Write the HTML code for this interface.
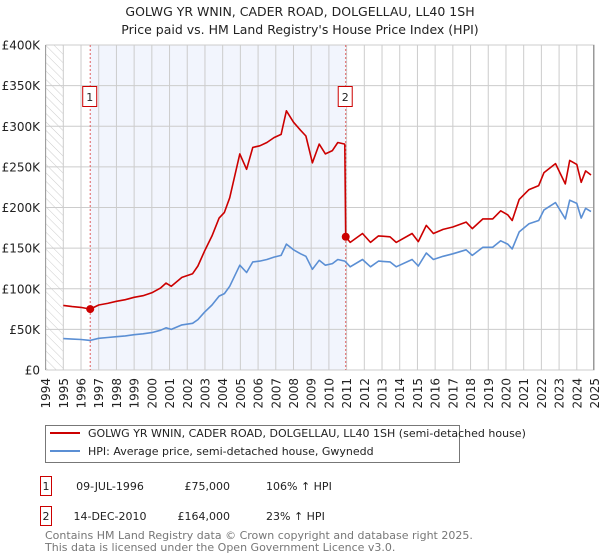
<!DOCTYPE html>
<html><head><meta charset="utf-8"><style>
body{margin:0;background:#fff;font-family:"Liberation Sans","DejaVu Sans",sans-serif;}
svg{display:block}
</style></head><body>
<svg id="chart" width="600" height="560" viewBox="0 0 600 560" xmlns="http://www.w3.org/2000/svg" font-family="DejaVu Sans, Liberation Sans, sans-serif">
<defs>
<pattern id="hatch" patternUnits="userSpaceOnUse" width="6" height="6" patternTransform="rotate(-45)">
<line x1="0" y1="0" x2="0" y2="6" stroke="#ccc" stroke-width="1"/>
</pattern>
</defs>
<text x="300" y="16" text-anchor="middle" font-size="12.5" fill="#222">GOLWG YR WNIN, CADER ROAD, DOLGELLAU, LL40 1SH</text>
<text x="300" y="34" text-anchor="middle" font-size="12.5" fill="#222">Price paid vs. HM Land Registry's House Price Index (HPI)</text>
<g id="plot"></g>
<g>
<rect x="45.5" y="425.5" width="414" height="37" fill="#fff" stroke="#777"/>
<line x1="50" y1="433" x2="80" y2="433" stroke="#cc0000" stroke-width="2"/>
<text x="88" y="437" font-size="11" fill="#222">GOLWG YR WNIN, CADER ROAD, DOLGELLAU, LL40 1SH (semi-detached house)</text>
<line x1="50" y1="451" x2="80" y2="451" stroke="#5b8fd4" stroke-width="2"/>
<text x="88" y="455" font-size="11" fill="#222">HPI: Average price, semi-detached house, Gwynedd</text>
</g>
<g font-size="11" fill="#222">
<rect x="40.5" y="476.5" width="11" height="19" fill="#fff" stroke="#cc0000"/>
<text x="46" y="490" text-anchor="middle">1</text>
<text x="110" y="490" text-anchor="middle">09-JUL-1996</text>
<text x="230" y="490" text-anchor="end">£75,000</text>
<text x="266" y="490">106% ↑ HPI</text>
<rect x="40.5" y="506.5" width="11" height="19" fill="#fff" stroke="#cc0000"/>
<text x="46" y="520" text-anchor="middle">2</text>
<text x="110" y="520" text-anchor="middle">14-DEC-2010</text>
<text x="230" y="520" text-anchor="end">£164,000</text>
<text x="266" y="520">23% ↑ HPI</text>
</g>
<g font-size="11" fill="#777">
<text x="45" y="539">Contains HM Land Registry data © Crown copyright and database right 2025.</text>
<text x="45" y="551">This data is licensed under the Open Government Licence v3.0.</text>
</g>
</svg>
<script>
const dates=[1995.0,1995.5,1996.0,1996.52,1997.0,1997.5,1998.0,1998.5,1999.0,1999.5,2000.0,2000.5,2000.8,2001.1,2001.7,2002.3,2002.6,2002.97,2003.4,2003.8,2004.1,2004.4,2004.97,2005.35,2005.7,2006.1,2006.5,2006.9,2007.3,2007.6,2008.0,2008.4,2008.7,2009.07,2009.45,2009.8,2010.2,2010.5,2010.9,2010.95,2011.2,2011.9,2012.35,2012.8,2013.45,2013.8,2014.7,2015.05,2015.5,2015.9,2016.45,2017.0,2017.75,2018.1,2018.7,2019.25,2019.7,2020.1,2020.35,2020.75,2021.3,2021.85,2022.15,2022.8,2023.35,2023.6,2024.0,2024.25,2024.5,2024.8];
const hpiValues=[38.6,38,37.5,36.4,39,40,41,42,43.5,44.5,46,49,52,50,55.5,57.5,62,71,80,91,94,103,129,120,133,134,136,139,141,155,148,143,140,124,135,129,131,136,134,133,127,136,127,134,133,127,136,128,144,136,140,143,148,141,151,151,159,155,149,170,180,184,197,206,186,209,205,187,199,195];
const priceValues=[79.5,78,77,75,80,82,84.5,86.5,89.5,91.5,95,101,107,103,114,118.5,128,146,165,187,194,212,266,247,274,276,280,286,290,319,305,295,288,255,278,266,270,280,278,164,157,168,157,165,164,157,168,158,178,168,173,176,182,174,186,186,196,191,184,210,222,227,243,254,229,258,253,231,245,240];
const saleDates=[1996.52,2010.95];
const salePrices=[75,164];
const saleLabels=["1","2"];
const yTicks=[0,50,100,150,200,250,300,350,400];
const yTickLabels=["£0","£50K","£100K","£150K","£200K","£250K","£300K","£350K","£400K"];
const xYears=[1994,1995,1996,1997,1998,1999,2000,2001,2002,2003,2004,2005,2006,2007,2008,2009,2010,2011,2012,2013,2014,2015,2016,2017,2018,2019,2020,2021,2022,2023,2024,2025];

const X0=45.6,X1=594.5,Y0=370,Y1=45;
const xs=y=>X0+(y-1994)*(X1-X0)/31;
const ys=v=>Y0-(v/400)*(Y0-Y1);
const NS="http://www.w3.org/2000/svg";
const plot=document.getElementById('plot');
function mk(tag,attrs,parent){const e=document.createElementNS(NS,tag);for(const k in attrs)e.setAttribute(k,attrs[k]);(parent||plot).appendChild(e);return e;}

let r=mk('rect',{x:X0,y:Y1,width:xs(1995)-X0,height:Y0-Y1,fill:'url(#hatch)'});


r=mk('rect',{x:xs(saleDates[0]),y:Y1,width:xs(saleDates[1])-xs(saleDates[0]),height:Y0-Y1,fill:'#f2f5fd'});



xYears.forEach(y=>{const l=mk('line',{x1:xs(y),x2:xs(y),y1:Y1,y2:Y0,stroke:'#ccc','stroke-width':1});


const t=mk('text',{x:0,y:0,'font-size':12,fill:'#222','text-anchor':'end',transform:`translate(${xs(y)+4.5},${Y0+8}) rotate(-90)`});
t.textContent=y;

});
yTicks.forEach((v,i)=>{const l=mk('line',{x1:X0,x2:X1,y1:ys(v),y2:ys(v),stroke:'#ccc','stroke-width':1});


const t=mk('text',{x:40,y:ys(v)+4.5,'font-size':12,fill:'#222','text-anchor':'end'});
t.textContent=yTickLabels[i];

});
let ax=mk('line',{x1:X0,x2:X0,y1:Y1,y2:Y0,stroke:'#999','stroke-width':1});


ax=mk('line',{x1:X1-1,x2:X1-1,y1:Y1,y2:Y0,stroke:'#999','stroke-width':1});



saleDates.forEach((d,i)=>{const l=mk('line',{x1:xs(d),x2:xs(d),y1:Y1,y2:Y0,stroke:'#e06060','stroke-width':1,'stroke-dasharray':'2,2'});

});

function pathOf(vals){return vals.map((v,i)=>(i?'L':'M')+xs(dates[i]).toFixed(1)+','+ys(v).toFixed(1)).join('');}
let p=mk('path',{d:pathOf(hpiValues),fill:'none',stroke:'#5b8fd4','stroke-width':1.6,'stroke-linejoin':'round'});


p=mk('path',{d:pathOf(priceValues),fill:'none',stroke:'#cc0000','stroke-width':1.6,'stroke-linejoin':'round'});



saleDates.forEach((d,i)=>{const c=mk('circle',{cx:xs(d),cy:ys(salePrices[i]),r:4,fill:'#cc0000'});


const b=mk('rect',{x:xs(d)-7.5,y:86.5,width:14,height:20,fill:'#fff',stroke:'#cc0000'});


const t=mk('text',{x:xs(d)-0.5,y:101,'font-size':11,fill:'#222','text-anchor':'middle'});
t.textContent=saleLabels[i];

});
</script>
</body></html>
